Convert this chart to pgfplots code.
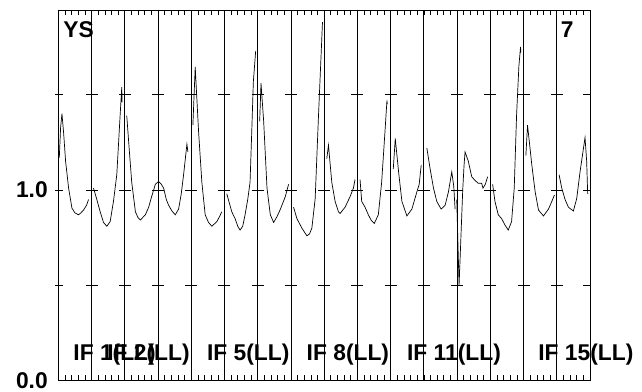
\documentclass[border=0pt]{standalone}
\usepackage{pgfplots}
\pgfplotsset{compat=1.18}
\usepackage{fontspec}
\setmainfont{Liberation Sans}

\newcommand{\lab}{\bfseries\fontsize{22.8}{24}\selectfont}

\begin{document}
\begin{tikzpicture}
\begin{axis}[
  scale only axis,
  width=531.7pt, height=370.7pt,
  xmin=0, xmax=16, ymin=0, ymax=1.944,
  axis line style={line width=0.8pt},
  xtick={0,...,16}, xticklabels={},
  minor x tick num=4,
  xtick pos=both,
  tick align=inside,
  major tick length=5.5pt, minor tick length=5.5pt,
  every tick/.style={black, line width=0.6pt},
  xmajorgrids, grid style={black, line width=0.7pt},
  ytick={0,1}, yticklabels={0.0,1.0},
  ytick style={draw=none},
  yticklabel style={font=\lab, xshift=-7pt},
  clip=false,
  unbounded coords=jump,
]

\addplot[black, line width=0.7pt, mark=none] coordinates {
  % IF 1
  (0.03,1.17) (0.07,1.33) (0.11,1.40) (0.16,1.30) (0.22,1.15) (0.31,1.01)
  (0.41,0.905) (0.50,0.88) (0.61,0.87) (0.68,0.88) (0.76,0.895) (0.85,0.92) (0.91,0.95)
  (0.95,nan)
  % IF 2
  (1.06,1.01) (1.16,0.95) (1.26,0.886) (1.36,0.83) (1.46,0.81) (1.56,0.834)
  (1.66,0.94) (1.76,1.08) (1.86,1.39) (1.91,1.54) (1.92,1.46)
  (1.95,nan)
  % IF 3-4
  (2.06,1.39) (2.14,1.20) (2.21,1.04) (2.32,0.886) (2.40,0.855) (2.47,0.843)
  (2.62,0.87) (2.72,0.91) (2.80,0.96) (2.92,1.03) (3.02,1.045) (3.10,1.03)
  (3.17,1.01) (3.25,0.95) (3.32,0.92) (3.42,0.89) (3.52,0.87) (3.62,0.90)
  (3.70,0.98) (3.77,1.08) (3.87,1.24) (3.90,1.20)
  (3.95,nan)
  % IF 5
  (4.05,1.34) (4.12,1.645) (4.22,1.31) (4.32,1.04) (4.42,0.87) (4.52,0.83)
  (4.62,0.81) (4.77,0.834) (4.85,0.86) (4.92,0.886)
  (4.95,nan)
  % IF 6
  (5.07,0.98) (5.15,0.93) (5.22,0.886) (5.32,0.85) (5.40,0.81) (5.47,0.79)
  (5.55,0.81) (5.62,0.87) (5.70,0.95) (5.77,1.04) (5.82,1.30) (5.87,1.57) (5.94,1.73)
  (5.97,nan)
  % IF 7
  (6.06,1.36) (6.10,1.56) (6.18,1.36) (6.28,1.01) (6.38,0.87) (6.48,0.83)
  (6.58,0.86) (6.66,0.89) (6.73,0.92) (6.83,0.965) (6.93,1.03)
  (6.97,nan)
  % IF 8
  (7.08,0.91) (7.18,0.85) (7.33,0.80) (7.48,0.76) (7.56,0.77) (7.63,0.80)
  (7.73,0.955) (7.83,1.39) (7.95,1.88)
  (7.98,nan)
  % IF 9
  (8.08,1.165) (8.13,1.235) (8.23,1.04) (8.33,0.94) (8.43,0.886) (8.48,0.877)
  (8.63,0.91) (8.78,0.965) (8.88,1.01) (8.93,1.055)
  (8.97,nan)
  % IF 10
  (9.08,1.055) (9.13,0.94) (9.23,0.91) (9.33,0.87) (9.42,0.84) (9.51,0.825)
  (9.63,0.87) (9.73,1.04) (9.83,1.305) (9.89,1.47) (9.90,1.45)
  (9.95,nan)
  % IF 11
  (10.08,1.11) (10.14,1.27) (10.24,1.095) (10.34,0.94) (10.49,0.864) (10.64,0.90)
  (10.79,0.99) (10.86,1.03) (10.92,1.13)
  (10.97,nan)
  % IF 12
  (11.09,1.22) (11.19,1.11) (11.29,1.01) (11.39,0.94) (11.52,0.90) (11.64,0.92)
  (11.74,0.99) (11.84,1.095) (11.90,1.02) (11.94,0.90)
  (11.96,nan)
  % IF 13
  (11.99,0.95) (12.06,0.50) (12.17,1.00) (12.21,1.13) (12.24,1.20) (12.34,1.15)
  (12.44,1.07) (12.54,1.05) (12.64,1.035) (12.74,1.035) (12.78,1.01) (12.85,1.03) (12.92,1.07)
  (12.97,nan)
  % IF 14
  (13.07,1.03) (13.14,0.94) (13.24,0.87) (13.34,0.85) (13.44,0.817) (13.54,0.79)
  (13.64,0.834) (13.72,1.01) (13.79,1.39) (13.86,1.65) (13.91,1.75) (13.92,1.72)
  (13.97,nan)
  % IF 15
  (14.07,1.18) (14.12,1.34) (14.25,1.13) (14.35,0.99) (14.45,0.895) (14.60,0.864)
  (14.75,0.90) (14.85,0.94) (14.93,0.974)
  (14.97,nan)
  % IF 16
  (15.07,1.08) (15.15,1.01) (15.25,0.95) (15.35,0.91) (15.50,0.89) (15.60,0.955)
  (15.70,1.095) (15.85,1.275) (15.90,1.15) (15.93,0.98)
};

% short level marks on every divider
\pgfplotsinvokeforeach{1,...,15}{
  \draw[line width=0.7pt] ([xshift=-6pt]axis cs:#1,0.5) -- ([xshift=6pt]axis cs:#1,0.5);
  \draw[line width=0.7pt] ([xshift=-6pt]axis cs:#1,1) -- ([xshift=6pt]axis cs:#1,1);
  \draw[line width=0.7pt] ([xshift=-6pt]axis cs:#1,1.5) -- ([xshift=6pt]axis cs:#1,1.5);
}
\pgfplotsinvokeforeach{0.5,1,1.5}{
  \draw[line width=0.7pt] ([xshift=-3pt]axis cs:0,#1) -- ([xshift=5pt]axis cs:0,#1);
  \draw[line width=0.7pt] ([xshift=-7pt]axis cs:16,#1) -- (axis cs:16,#1);
}

\node[anchor=base west, inner sep=0, font=\lab] at (axis cs:0.15,1.80) {YS};
\node[anchor=base west, inner sep=0, font=\lab] at (axis cs:15.12,1.80) {7};

\node[anchor=base west, inner sep=0, font=\lab] at (axis cs:0.45,0.107) {IF 1(LL)};
\node[anchor=base west, inner sep=0, font=\lab] at (axis cs:1.47,0.107) {IF 2(LL)};
\node[anchor=base west, inner sep=0, font=\lab] at (axis cs:4.47,0.107) {IF 5(LL)};
\node[anchor=base west, inner sep=0, font=\lab] at (axis cs:7.47,0.107) {IF 8(LL)};
\node[anchor=base west, inner sep=0, font=\lab] at (axis cs:10.49,0.107) {IF 11(LL)};
\node[anchor=base west, inner sep=0, font=\lab] at (axis cs:14.44,0.107) {IF 15(LL)};
\end{axis}
\pgfresetboundingbox
\path[use as bounding box] (-58.3pt,-10.3pt) rectangle (583.7pt,380.7pt);
\end{tikzpicture}
\end{document}
